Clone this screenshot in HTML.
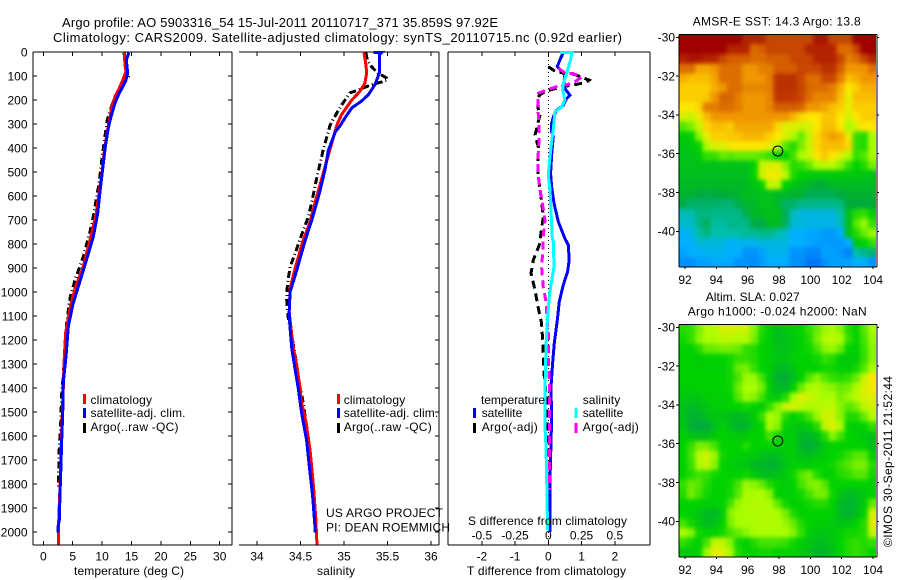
<!DOCTYPE html>
<html>
<head>
<meta charset="utf-8">
<title>Argo profile</title>
<style>
html,body{margin:0;padding:0;background:#fff;}
svg{display:block;}
text{font-family:"Liberation Sans",sans-serif;font-size:12px;fill:#000;}
</style>
</head>
<body>
<svg id="chart" xmlns="http://www.w3.org/2000/svg" width="900" height="580" viewBox="0 0 900 580">
<defs>
<filter id="mapSmooth" x="-5%" y="-5%" width="110%" height="110%" color-interpolation-filters="sRGB"><feGaussianBlur stdDeviation="2.2"/></filter>
<clipPath id="clipSst"><rect x="679" y="34.5" width="197" height="232.5"/></clipPath>
<clipPath id="clipSla"><rect x="679" y="324.5" width="197" height="232.5"/></clipPath>
</defs>
<text x="62" y="27" style="font-size:13px" textLength="436" lengthAdjust="spacing">Argo profile: AO 5903316_54 15-Jul-2011 20110717_371 35.859S 97.92E</text>
<text x="53" y="42" style="font-size:13px" textLength="569" lengthAdjust="spacing">Climatology: CARS2009. Satellite-adjusted climatology: synTS_20110715.nc (0.92d earlier)</text>
<g id="plots"></g>

<text x="74" y="575" textLength="110" lengthAdjust="spacing">temperature (deg C)</text>
<text x="317" y="575" textLength="38" lengthAdjust="spacing">salinity</text>
<text x="467" y="575" textLength="159" lengthAdjust="spacing">T difference from climatology</text>
<text x="468" y="525" textLength="159" lengthAdjust="spacing">S difference from climatology</text>

<g>
<rect x="83" y="394" width="3" height="10" fill="#f00"/>
<rect x="83" y="408" width="3" height="10" fill="#00f"/>
<rect x="83" y="423" width="3" height="10" fill="#000"/>
<text x="90.5" y="404" textLength="61.5" lengthAdjust="spacing">climatology</text>
<text x="90.5" y="417" textLength="95" lengthAdjust="spacing">satellite-adj. clim.</text>
<text x="90.5" y="431" textLength="88" lengthAdjust="spacing">Argo(..raw -QC)</text>
</g>
<g>
<rect x="337" y="394" width="3" height="10" fill="#f00"/>
<rect x="337" y="408" width="3" height="10" fill="#00f"/>
<rect x="337" y="423" width="3" height="10" fill="#000"/>
<text x="343.7" y="404" textLength="61.5" lengthAdjust="spacing">climatology</text>
<text x="343.7" y="417" textLength="94.5" lengthAdjust="spacing">satellite-adj. clim.</text>
<text x="343.7" y="431" textLength="88" lengthAdjust="spacing">Argo(..raw -QC)</text>
</g>
<text x="326" y="517" textLength="117" lengthAdjust="spacing">US ARGO PROJECT</text>
<text x="326" y="531.5" textLength="124" lengthAdjust="spacing">PI: DEAN ROEMMICH</text>
<g id="legend3">
<text x="481" y="404" textLength="64" lengthAdjust="spacing">temperature</text>
<rect x="473" y="408" width="3" height="10" fill="#00f"/>
<text x="481.7" y="417" textLength="40.6" lengthAdjust="spacing">satellite</text>
<rect x="473" y="423" width="3" height="10" fill="#000"/>
<text x="481.7" y="431" textLength="56" lengthAdjust="spacing">Argo(-adj)</text>
<text x="582.7" y="404" textLength="37.5" lengthAdjust="spacing">salinity</text>
<rect x="574.5" y="408" width="3" height="10" fill="#0ff"/>
<text x="582.7" y="417" textLength="40.6" lengthAdjust="spacing">satellite</text>
<rect x="574.5" y="423" width="3" height="10" fill="#f0f"/>
<text x="582.7" y="431" textLength="56" lengthAdjust="spacing">Argo(-adj)</text>
</g>

<text x="692.7" y="25.5" textLength="168" lengthAdjust="spacing">AMSR-E SST: 14.3 Argo: 13.8</text>
<text x="705.7" y="301" textLength="94" lengthAdjust="spacing">Altim. SLA: 0.027</text>
<text x="687.7" y="315.5" textLength="179" lengthAdjust="spacing">Argo h1000: -0.024 h2000: NaN</text>
<text transform="translate(892,547) rotate(-90)" textLength="171" lengthAdjust="spacing">©IMOS 30-Sep-2011 21:52:44</text>
</svg>

<script>
// depth axis
const depthTicks = [0,100,200,300,400,500,600,700,800,900,1000,1100,1200,1300,1400,1500,1600,1700,1800,1900,2000];

// temperature panel
const tempTicks = [0,5,10,15,20,25,30];
const tempClimDepth = [3,55,80,117,160,188,213,270,330,400,500,582,672,753,894,978,1054,1170,1297,1400,1500,1600,1700,1800,1900,2000,2052];
const tempClimValue = [13.78,13.9,14.06,13.5,12.76,12.2,11.8,11.34,10.9,10.45,10,9.5,9,8.23,6.8,5.5,4.66,3.8,3.52,3.4,3.25,3.1,3,2.85,2.7,2.55,2.55];
const tempSatDepth = [3,33,88,117,150,180,213,270,317,395,465,582,672,770,887,978,1054,1145,1270,1375,1507,1618,1729,1840,1951,1980,2003];
const tempSatValue = [14.52,14.12,14.35,14.06,13.38,12.76,12.19,11.51,11.05,10.55,10.2,9.64,9.25,8.5,7.09,5.95,5,4.25,3.86,3.4,3.3,3.13,3,2.84,2.72,2.5,2.5];
const tempArgoDepth = [3,30,75,100,117,150,185,213,280,350,453,550,603,686,749,853,950,1025,1130,1228,1346,1424,1549,1646,1757,1820];
const tempArgoValue = [13.7,13.9,14.18,14.6,13.9,13.04,12.2,11.8,10.9,10.5,9.93,9.47,9.08,8.5,7.94,6.8,5.39,4.54,3.98,3.69,3.4,3.13,2.96,2.72,2.62,2.62];

// salinity panel
const salTicks = [34,34.5,35,35.5,36];
const salClimDepth = [3,55,88,130,165,200,262,303,597,708,790,903,986,1083,1180,1236,1306,1410,1451,1535,1660,1799,1938,2052];
const salClimValue = [35.23,35.253,35.26,35.24,35.18,35.09,34.97,34.92,34.69,34.61,34.525,34.437,34.38,34.37,34.4,34.42,34.456,34.5,34.506,34.56,34.61,34.647,34.675,34.69];
const salSatDepth = [3,3,12,88,136,178,205,233,275,310,333,410,493,590,700,790,910,1000,1083,1153,1236,1320,1403,1507,1618,1757,1854,1979,2003];
const salSatValue = [35.337,35.43,35.406,35.406,35.356,35.28,35.2,35.09,35.01,34.95,34.9,34.82,34.78,34.716,34.63,34.55,34.456,34.38,34.37,34.38,34.4,34.437,34.475,34.514,34.57,34.61,34.64,34.667,34.667];
const salArgoDepth = [3,35,62,88,108,117,125,136,160,170,222,277,305,410,520,625,688,764,840,896,965,1028,1111,1180,1236,1320,1389,1424,1507,1604,1701,1771];
const salArgoValue = [35.25,35.27,35.32,35.39,35.49,35.5,35.43,35.32,35.15,35.07,34.97,34.88,34.84,34.76,34.69,34.63,34.59,34.51,34.437,34.38,34.35,34.34,34.36,34.4,34.425,34.463,34.486,34.514,34.55,34.59,34.62,34.63];

// difference panel
const diffTTicks = [-2,-1,0,1,2];
const diffSTicks = [-0.5,-0.25,0,0.25,0.5];
const diffSTickLabels = ["-0.5","-0.25","0","0.25","0.5"];
const tSatDepth = [3,33,61,96,144,180,194,222,243,271,299,333,353,429,506,561,630,707,777,804,867,915,971,1040,1117,1213,1297,1394,1533,1783,2000];
const tSatValue = [0.45,0.35,0.27,0.5,0.45,0.65,0.55,0.45,0.25,0.15,0.1,0.1,0.15,0.1,0.07,0.1,0.17,0.3,0.5,0.6,0.63,0.58,0.45,0.33,0.27,0.18,0.13,0.08,0.1,0.05,0.05];
const tArgoDepth = [61,85,89,105,117,126,135,144,162,179,228,262,346,395,463,520,603,686,783,804,867,922,992,1067,1130,1200,1270,1338,1450,1630,1825];
const tArgoValue = [0,0.25,0.7,1,1.23,1.15,0.85,0.45,-0.05,-0.27,-0.32,-0.25,-0.4,-0.3,-0.32,-0.3,-0.22,-0.15,-0.25,-0.27,-0.45,-0.52,-0.4,-0.3,-0.2,-0.17,-0.15,-0.13,-0.05,0,0];
const sSatDepth = [3,3,33,88,130,158,200,229,250,318,395,463,512,575,658,775,796,895,950,1013,1130,1228,1367,1561,1645,1783,1992];
const sSatValue = [0.088,0.176,0.168,0.138,0.113,0.108,0.125,0.1,0.05,0.038,0.02,0.008,0,0.013,0.02,0.03,0.038,0.043,0.026,0.008,-0.008,-0.017,-0.023,-0.025,-0.017,-0.012,-0.005];
const sArgoDepth = [67,88,89,105,124,137,144,158,172,228,296,367,463,546,630,700,770,838,895,978,1040,1087,1171,1297,1367,1562,1825];
const sArgoValue = [0.075,0.126,0.186,0.25,0.2,0.138,0.063,-0.012,-0.075,-0.08,-0.07,-0.07,-0.08,-0.07,-0.045,-0.025,-0.038,-0.042,-0.05,-0.038,-0.017,-0.012,0,0,0.008,0.008,0.008];

// map axes
const lonTicks = [92,94,96,98,100,102,104];
const latTicks = [-30,-32,-34,-36,-38,-40];
const floatLon = [97.92];
const floatLat = [-35.859];

// SST map grid, in colour-scale units (rows north to south)
const sstGrid = [
[10,10,10,10,10,10,10,10,9.5,9.5,9.5,9,9,9,9,9,9,9.7,9.7,9,9,9,10,10,10],
[10,10,10,10,10,10,9.5,9.5,9.5,8.5,8.7,9,9,9,9,9,9.5,9.5,9.5,9.5,8.5,8.5,9,10,10],
[9.5,9.7,9.7,9.5,9.5,9,8.7,8.7,8.7,8.5,8.5,8.7,8.7,8.7,9,9,9,9.5,9.5,9.5,9,8.3,8.5,9,9.5],
[8.5,8.5,7.8,7.8,8,8.5,8.5,8.5,8,8,8.3,8.3,8.7,8.7,8.7,9,9,9,9.3,9.3,8.7,8,8,8,8.5],
[7.7,7.5,7.5,7.5,7.8,8.5,8.5,8.5,8,8,8,8.3,9.3,9.3,9.3,9,8.5,8.5,9,9,8.3,7.5,7.7,8,8],
[7.3,7.3,7.3,7.3,7.7,8,8.5,8.5,8.2,8.2,8.2,8.3,9.3,9.3,9.3,9,8.6,8.5,8.5,8.3,7.7,7,7.3,7.7,7.7],
[7.3,7.3,7.3,7.4,8,8.6,8.6,8.3,8,8,8,8.2,9.2,9.2,9.2,9,8.5,8.2,8.2,8.2,7.5,6.7,7.5,7.5,7.5],
[7,7,7.2,8.3,8.3,8.5,8.5,8.3,8,8,8,8.2,8.7,8.7,8.7,8.6,8,8,7.8,7.5,7.3,6.7,7.3,7.3,7.3],
[6.5,6.3,6.8,7.5,8,8,8,8,8,8,8,8,8,8,7.6,7.2,7,7,7.4,7.4,7,6.5,7,7.3,7.3],
[5.5,5.7,6.3,7.2,7.5,7.5,7.3,7.8,7.8,7.8,7.8,7.8,7.2,6.6,6.6,6.4,6.5,7,7.5,7.5,7,6,6.5,7,7],
[4.8,5,5.8,6.7,7.3,7.3,7.4,7.4,7.6,7.6,7.6,7.3,7,6.5,6,5.6,6.3,7.2,7.6,7.9,7.7,6.8,5.3,5.2,6],
[4.7,4.8,5,6,6.6,6.6,6.9,7,7,7,7,6.7,6.3,5.5,5.2,5.7,6.3,7.2,7.5,7.5,7.5,7.2,5.3,5.2,6],
[4.6,4.6,4.8,5.3,5.3,5.6,5.5,5.6,5.6,5.6,5.5,5.3,5,5,5.4,6,6.3,7,7.4,7,6.6,6,5.3,5.5,6],
[4.6,4.6,4.6,4.6,4.6,4.6,4.6,4.6,4.6,5,6.3,6.5,6.6,5.8,5.2,5.3,5.6,6,6.2,6.2,5.8,5.3,5,5.2,5.7],
[4.5,4.5,4.5,4.5,4.5,4.5,4.5,4.5,4.5,5,6.4,6.8,6.8,6.2,5.2,5,4.8,4.8,4.8,4.8,4.8,4.8,4.7,4.7,4.6],
[4.4,4.4,4.4,4.4,4.4,4.4,4.4,4.4,4.4,4.6,5,6.3,6.2,5,4.7,4.5,4.3,4.1,4.1,4.4,4.4,4.4,4.4,4.4,4.4],
[4.2,4.2,4,3.9,4,4,4.2,4.2,4.5,4.5,4.6,4.6,4.4,4.4,4.2,4.2,3.8,3.8,3.8,3.8,4,4.2,4.2,4.2,4.2],
[3.9,3.6,3.6,3.6,3.6,3.5,3.5,3.8,4.3,4.3,4.6,4.6,4.3,3.6,3.6,3.3,3.3,3.3,3.3,3.3,3.4,4,4,4,4],
[2.8,2.9,3.4,3.4,3.3,3.3,3.3,3.3,3.8,4.4,4.4,4.6,4.6,3.8,2.8,2.4,2.4,2.4,2.4,2.4,3,4.5,5.2,5.3,5],
[2.6,2.6,3.3,3.7,3.1,3.1,3.3,3.3,3.3,3.9,3.9,4.4,4.4,3.7,2.5,2.5,2.3,2.3,2.3,2.3,2.7,4.5,5.5,5.9,5.3],
[2.1,2.3,3,3.4,3,3,3,3,3.2,3.2,3.3,3.3,3,2.6,2,2,1.8,1.8,1.5,1.5,2,4.6,5.2,5.6,5.9],
[2,2,2.5,2.5,2.4,2.4,2.1,2.2,2.2,2.2,2.4,2.4,2.4,2.4,2,2,1.8,1.6,1.6,1.5,1.5,2,4.7,5,5.3],
[1.7,2,2,2.2,2.2,2.2,2,2,1.4,1.4,1.7,2.2,2.2,2.2,1.4,1.4,1.1,1.1,1.7,1.7,1.5,1,3,3.3,3.5],
[1.3,1.3,1.7,1.7,1.9,1.9,1.9,1.4,1.4,1.2,1.6,2,2,2,1.3,1.3,0.8,0.8,1.3,1.7,1.7,1.7,2,2,1.4]
];

// Altimetry map grid, in colour-scale units (rows north to south)
const slaGrid = [
[5.2,5.3,5.7,6.1,6.1,6.5,6.5,6.4,6.4,5.8,5.2,4.9,4.5,4.7,4.9,5,5.3,5.6,5.9,6,5.8,5.2,5,5.5,6],
[5.1,5.3,5.8,6,6,6.2,6.2,6.1,6.1,5.7,5.1,4.9,4.5,4.6,4.8,5,5.2,5.7,6.1,6.2,6,5.3,5,5.4,5.9],
[5,5,5.2,5.6,5.6,5.7,5.7,5.6,5.3,5.2,5,4.9,4.6,4.6,4.8,5,5.1,5.4,5.8,5.9,5.6,5,4.9,5.3,5.8],
[5,5,4.9,5,5,5,5.1,5.3,5.3,5.2,5,4.9,4.7,4.7,4.9,5,5,5.1,5.3,5.2,4.9,4.8,4.9,5.3,5.8],
[5,5,4.9,4.9,4.9,4.9,5.1,5.6,5.7,5.3,5,4.8,4.5,4.4,4.7,5,5,5,5.1,5.1,4.9,4.9,5.1,5.5,6],
[5,5,5,5,5,5,5.1,5.4,5.9,5.9,5.4,4.8,4.2,4.1,4.5,5,5.5,5.8,5.5,5.3,5.2,5.3,5.6,6.3,7],
[4.9,4.9,5,5,5,5,5.1,5.6,6,6,5.7,4.9,4.4,4.3,4.9,5.6,6,6.1,5.9,5.8,5.6,5.7,6.1,6.5,6.9],
[4.8,4.7,4.7,4.9,4.9,4.9,5,5.5,5.9,5.8,5.4,4.9,4.8,5.2,6,6.6,6.4,6.1,6,6,5.7,5.9,6.2,6.5,6.6],
[4.6,4.4,4.5,4.7,4.9,4.9,5,5,5.1,5,4.9,5.3,5.8,6.3,6.5,6.2,6,6.1,6.2,6.2,5.8,5.5,5.7,6.2,6.4],
[4.6,4.2,4.2,4.5,4.7,4.7,4.5,4.4,4.5,4.8,5.3,6,5.9,5.2,5,5.1,5.4,5.9,6.4,6.4,5.8,5.2,5.2,5.6,6.1],
[4.7,4.2,4,4,4.5,4.9,4.5,4.2,4.3,4.8,5,6,5.8,5,4.8,4.7,4.9,5.2,6.2,6.6,6,5,4.9,5,5.3],
[4.9,4.7,4.5,4.5,4.8,5,4.9,4.8,4.8,5,5,5.4,5.1,4.8,4.8,4.4,4.3,4.6,5.2,5.8,5.4,5,4.9,4.8,4.6],
[5,5.3,5.7,5.7,5.4,5,5,5,5.2,5,5,5,4.9,4.9,4.9,4.3,4.1,4.3,4.8,5,5,5,5,4.9,4.5],
[5,5.4,6.1,6.4,5.9,5.1,5,4.9,4.9,4.8,4.6,4.5,4.5,4.8,4.9,4.6,4.5,4.7,4.9,5,5.1,5.3,5.5,5.5,5],
[5,5.3,6,6.3,5.8,5,4.9,4.8,4.7,4.4,4.3,4.2,4.3,4.7,4.9,4.9,4.9,5,5,5.1,5.3,5.5,5.7,5.7,5.2],
[5,5.2,5.4,5.3,5.1,5,5,5,5.1,4.8,4.5,4.5,4.6,4.8,5.1,5.5,5.7,5.2,5,5,5.2,5.3,5.5,5.5,5.1],
[5.3,5.6,5.5,5.2,5,5,5.1,5.4,5.9,5.8,5.6,5.2,5,4.9,5,5.4,5.7,5.8,5.5,5,5,5,5,5,4.9],
[5.2,5.7,5.4,5.1,5,5,5.1,5.5,6,6,6.1,5.8,5,4.9,5,5.1,5.4,5.7,5.7,5.1,4.7,4.4,4.5,4.7,5],
[5,5,5,4.9,4.9,5,5.4,5.9,6,6.1,6.1,6,5.6,5.1,4.9,5,5.1,5.2,5.2,5,4.4,4.2,4.4,4.8,5.6],
[5,4.9,4.7,4.5,4.4,4.8,5.8,6,6,6.1,6.1,6.1,6,5.7,5.2,5,5,5,5,4.9,4.4,4.2,4.5,5,6.5],
[5.4,5.1,4.8,4.5,4.6,5,5.7,6,6,6,6.1,6.1,6.1,5.9,5.6,5.2,5,4.9,4.9,4.8,4.6,4.7,5,5.2,6.7],
[6,5.8,5.1,5,5,5.1,5.4,5.6,5.8,6,6,6,6,6,5.8,5.3,4.9,4.7,4.7,4.8,5,5.1,5.1,5.2,6.3],
[5.3,5.1,4.9,5.4,6.3,6.3,5.8,5.1,5,5.2,5.4,5.4,5.4,5.3,5.1,4.9,4.7,4.5,4.5,4.7,5,5.2,5.3,5.2,5.3],
[4.8,4.8,5,5.9,6.7,6.6,6,5.2,5,5,5.1,5.1,5,5,5,4.8,4.6,4.3,4.3,4.6,5,5.2,5.3,5.2,5]
];

const colorStops = [[0,80,220],[0,130,250],[0,175,255],[0,190,170],[0,170,60],[0,210,0],[170,252,0],[255,230,0],[240,150,0],[200,70,0],[160,0,0]];
function mapColor(v){
  const c = Math.max(0,Math.min(10,v));
  const i = Math.min(9,Math.floor(c));
  const f = c-i;
  const a = colorStops[i], b = colorStops[i+1];
  return 'rgb('+[0,1,2].map(function(k){return Math.round(a[k]+(b[k]-a[k])*f);}).join(',')+')';
}

const NS = 'http://www.w3.org/2000/svg';
const root = document.getElementById('plots');
function mk(tag,attrs,parent){
  const e = document.createElementNS(NS,tag);
  for(const k in attrs) e.setAttribute(k,attrs[k]);
  (parent||root).appendChild(e);
  return e;
}
function axisLine(x1,y1,x2,y2,name,parent){
  const l = mk('line',{x1:x1,y1:y1,x2:x2,y2:y2,stroke:'#000','stroke-width':1,'shape-rendering':'crispEdges'},parent);
  
  
  return l;
}
function label(x,y,str,anchor,name,parent){
  const t = mk('text',{x:x,y:y,'text-anchor':anchor},parent);
  t.textContent = str;
  
  
  return t;
}
const yDepth = function(d){ return 52 + d*0.24; };
const xTemp = function(t){ return 43.3 + t*5.88; };
const xSal = function(s){ return 257 + (s-34)*87; };
const xDiffT = function(t){ return 548.3 + t*33.25; };
const xDiffS = function(s){ return 548.3 + s*133; };
const xLon = function(l){ return 685 + (l-92)*15.67; };
function drawSeries(depths,values,xf,color,width,dash,name){
  const pts = depths.map(function(d,i){ return xf(values[i]).toFixed(1)+','+yDepth(d).toFixed(1); }).join(' ');
  const p = mk('polyline',{points:pts,fill:'none',stroke:color,'stroke-width':width,'shape-rendering':'crispEdges'});
  if(dash) p.setAttribute('stroke-dasharray',dash);
  
  
}

const yTop = 52, yBot = 545;
// Panel 1 axes
axisLine(33,yTop,232,yTop,'temperature-top-axis');
axisLine(33,yBot,232,yBot,'temperature-bottom-axis');
axisLine(33,yTop,33,yBot,'temperature-left-axis');
axisLine(232,yTop,232,yBot,'temperature-right-axis');
depthTicks.forEach(function(d){
  axisLine(33,yDepth(d),37,yDepth(d),'depth-tick-left');
  axisLine(228,yDepth(d),232,yDepth(d),'depth-tick-right');
  label(27.5,yDepth(d)+4.3,String(d),'end','depth-tick-label');
});
tempTicks.forEach(function(t){
  axisLine(xTemp(t),yTop,xTemp(t),yTop+4,'temperature-tick-top');
  axisLine(xTemp(t),yBot-4,xTemp(t),yBot,'temperature-tick-bottom');
  label(xTemp(t),560.7,String(t),'middle','temperature-tick-label');
});
// Panel 2 axes
axisLine(239,yTop,439,yTop,'salinity-top-axis');
axisLine(239,yBot,439,yBot,'salinity-bottom-axis');
axisLine(439,yTop,439,yBot,'salinity-right-axis');
depthTicks.forEach(function(d){
  axisLine(435,yDepth(d),439,yDepth(d),'salinity-depth-tick');
});
salTicks.forEach(function(s){
  axisLine(xSal(s),yTop,xSal(s),yTop+4,'salinity-tick-top');
  axisLine(xSal(s),yBot-4,xSal(s),yBot,'salinity-tick-bottom');
  label(xSal(s),560.7,String(s),'middle','salinity-tick-label');
});
// Panel 3 axes
axisLine(448,yTop,650,yTop,'difference-top-axis');
axisLine(448,yBot,650,yBot,'difference-bottom-axis');
axisLine(448,yTop,448,yBot,'difference-left-axis');
axisLine(650,yTop,650,yBot,'difference-right-axis');
diffTTicks.forEach(function(t){
  axisLine(xDiffT(t),yTop,xDiffT(t),yTop+4,'difference-tick-top');
  axisLine(xDiffT(t),yBot-4,xDiffT(t),yBot,'difference-tick-bottom');
  label(xDiffT(t),560.7,String(t),'middle','t-difference-tick-label');
});
diffSTicks.forEach(function(s,i){
  label(xDiffS(s),539.3,diffSTickLabels[i],'middle','s-difference-tick-label');
});
const zeroLine = mk('line',{x1:548.5,y1:yTop,x2:548.5,y2:yBot,stroke:'#000','stroke-width':1,'stroke-dasharray':'1 3','shape-rendering':'crispEdges'});



// Series
drawSeries(tempArgoDepth,tempArgoValue,xTemp,'#000',3,'7 3 1 3','temperature-argo-line');
drawSeries(tempClimDepth,tempClimValue,xTemp,'#f00',3,null,'temperature-climatology-line');
drawSeries(tempSatDepth,tempSatValue,xTemp,'#00f',3,null,'temperature-satellite-line');
drawSeries(salArgoDepth,salArgoValue,xSal,'#000',3,'7 3 1 3','salinity-argo-line');
drawSeries(salClimDepth,salClimValue,xSal,'#f00',3,null,'salinity-climatology-line');
drawSeries(salSatDepth,salSatValue,xSal,'#00f',3,null,'salinity-satellite-line');
drawSeries(tSatDepth,tSatValue,xDiffT,'#00f',3,null,'t-difference-satellite-line');
drawSeries(tArgoDepth,tArgoValue,xDiffT,'#000',3,'8 5','t-difference-argo-line');
drawSeries(sArgoDepth,sArgoValue,xDiffS,'#f0f',3,'8 5','s-difference-argo-line');
drawSeries(sSatDepth,sSatValue,xDiffS,'#0ff',3,null,'s-difference-satellite-line');

// Maps
function drawMap(grid,left,right,top,bottom,lat30y,labelY,name,clipId){
  const g = mk('g',{});
  
  
  const clipped = mk('g',{'clip-path':'url(#'+clipId+')'},g);
  
  
  const cells = mk('g',{filter:'url(#mapSmooth)'},clipped);
  
  
  const rows = grid.length, cols = grid[0].length;
  const w = (right-1-left)/cols, h = (bottom-top)/rows;
  const bleed = 10;
  grid.forEach(function(row,r){
    row.forEach(function(v,c){
      const x0 = left+c*w-(c===0?bleed:0);
      const x1 = left+(c+1)*w+(c===cols-1?bleed:0.4);
      const y0 = top+r*h-(r===0?bleed:0);
      const y1 = top+(r+1)*h+(r===rows-1?bleed:0.4);
      const cell = mk('rect',{x:x0.toFixed(2),y:y0.toFixed(2),width:(x1-x0).toFixed(2),height:(y1-y0).toFixed(2),fill:mapColor(v),'shape-rendering':'crispEdges'},cells);
      
      
    });
  });
  const yLat = function(l){ return lat30y + (-30-l)*19.4; };
  axisLine(left,top,right,top,'map-top-axis',g);
  axisLine(left,bottom,right,bottom,'map-bottom-axis',g);
  axisLine(left,top,left,bottom,'map-left-axis',g);
  axisLine(right,top,right,bottom,'map-right-axis',g);
  latTicks.forEach(function(l){
    axisLine(left-3,yLat(l),left,yLat(l),'map-lat-tick-left',g);
    axisLine(right,yLat(l),right+2,yLat(l),'map-lat-tick-right',g);
    label(675,yLat(l)+4.3,String(l),'end','map-lat-label',g);
  });
  lonTicks.forEach(function(l){
    axisLine(xLon(l),bottom,xLon(l),bottom+2,'map-lon-tick',g);
    label(xLon(l),labelY,String(l),'middle','map-lon-label',g);
  });
  const m = mk('circle',{cx:xLon(floatLon[0]),cy:yLat(floatLat[0]),r:5,fill:'none',stroke:'#000','stroke-width':1},g);
  
  
}
drawMap(sstGrid,679,877,34.5,267,37.3,284,'sst-map','clipSst');
drawMap(slaGrid,679,877,324.5,557,327.3,574,'altimetry-map','clipSla');
</script>
</body>
</html>
